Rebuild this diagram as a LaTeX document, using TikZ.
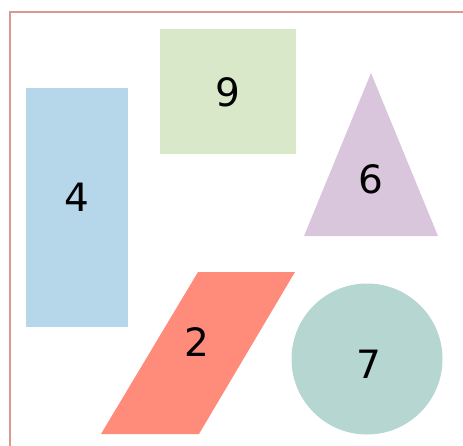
\documentclass[tikz,border=0pt]{standalone}
\usepackage{fontspec}
\setmainfont{DejaVu Sans}
\usetikzlibrary{positioning}

\definecolor{frameline}{HTML}{D9998F}
\definecolor{shblue}{HTML}{B6D7E9}
\definecolor{shgreen}{HTML}{D8E8C9}
\definecolor{shpurple}{HTML}{D9C6DD}
\definecolor{shred}{HTML}{FF8B7B}
\definecolor{shteal}{HTML}{B5D6D1}

\begin{document}
\begin{tikzpicture}[
  x=1pt, y=-1pt,
  num/.style={font=\fontsize{39}{40}\selectfont, text=black, inner sep=0pt},
  frame/.style={draw=frameline, line width=2pt}
]
\useasboundingbox (0,0) rectangle (463,445);

% outer frame, running off the page
\begin{scope}
  \clip (0,0) rectangle (463,445);
  \draw[frame] (10,12) rectangle (480,460);
\end{scope}

% ---- shapes
\fill[shblue]   (26,88) rectangle (128,327);
\fill[shgreen]  (160,29) rectangle (296,154);
\fill[shpurple] (371,73) -- (438,236) -- (304,236) -- cycle;
\fill[shred]    (198,272) -- (295,272) -- (199,434) -- (101,434) -- cycle;
\fill[shteal]   (367,359) circle[radius=75.5];

% ---- labels
\node[num] (four)  at (77,197)  {4};
\node[num] (nine)  at (228,92)  {9};
\node[num] (six)   at (371,179) {6};
\node[num] (two)   at (197,342) {2};
\node[num] (seven) at (369,364) {7};
\end{tikzpicture}
\end{document}
